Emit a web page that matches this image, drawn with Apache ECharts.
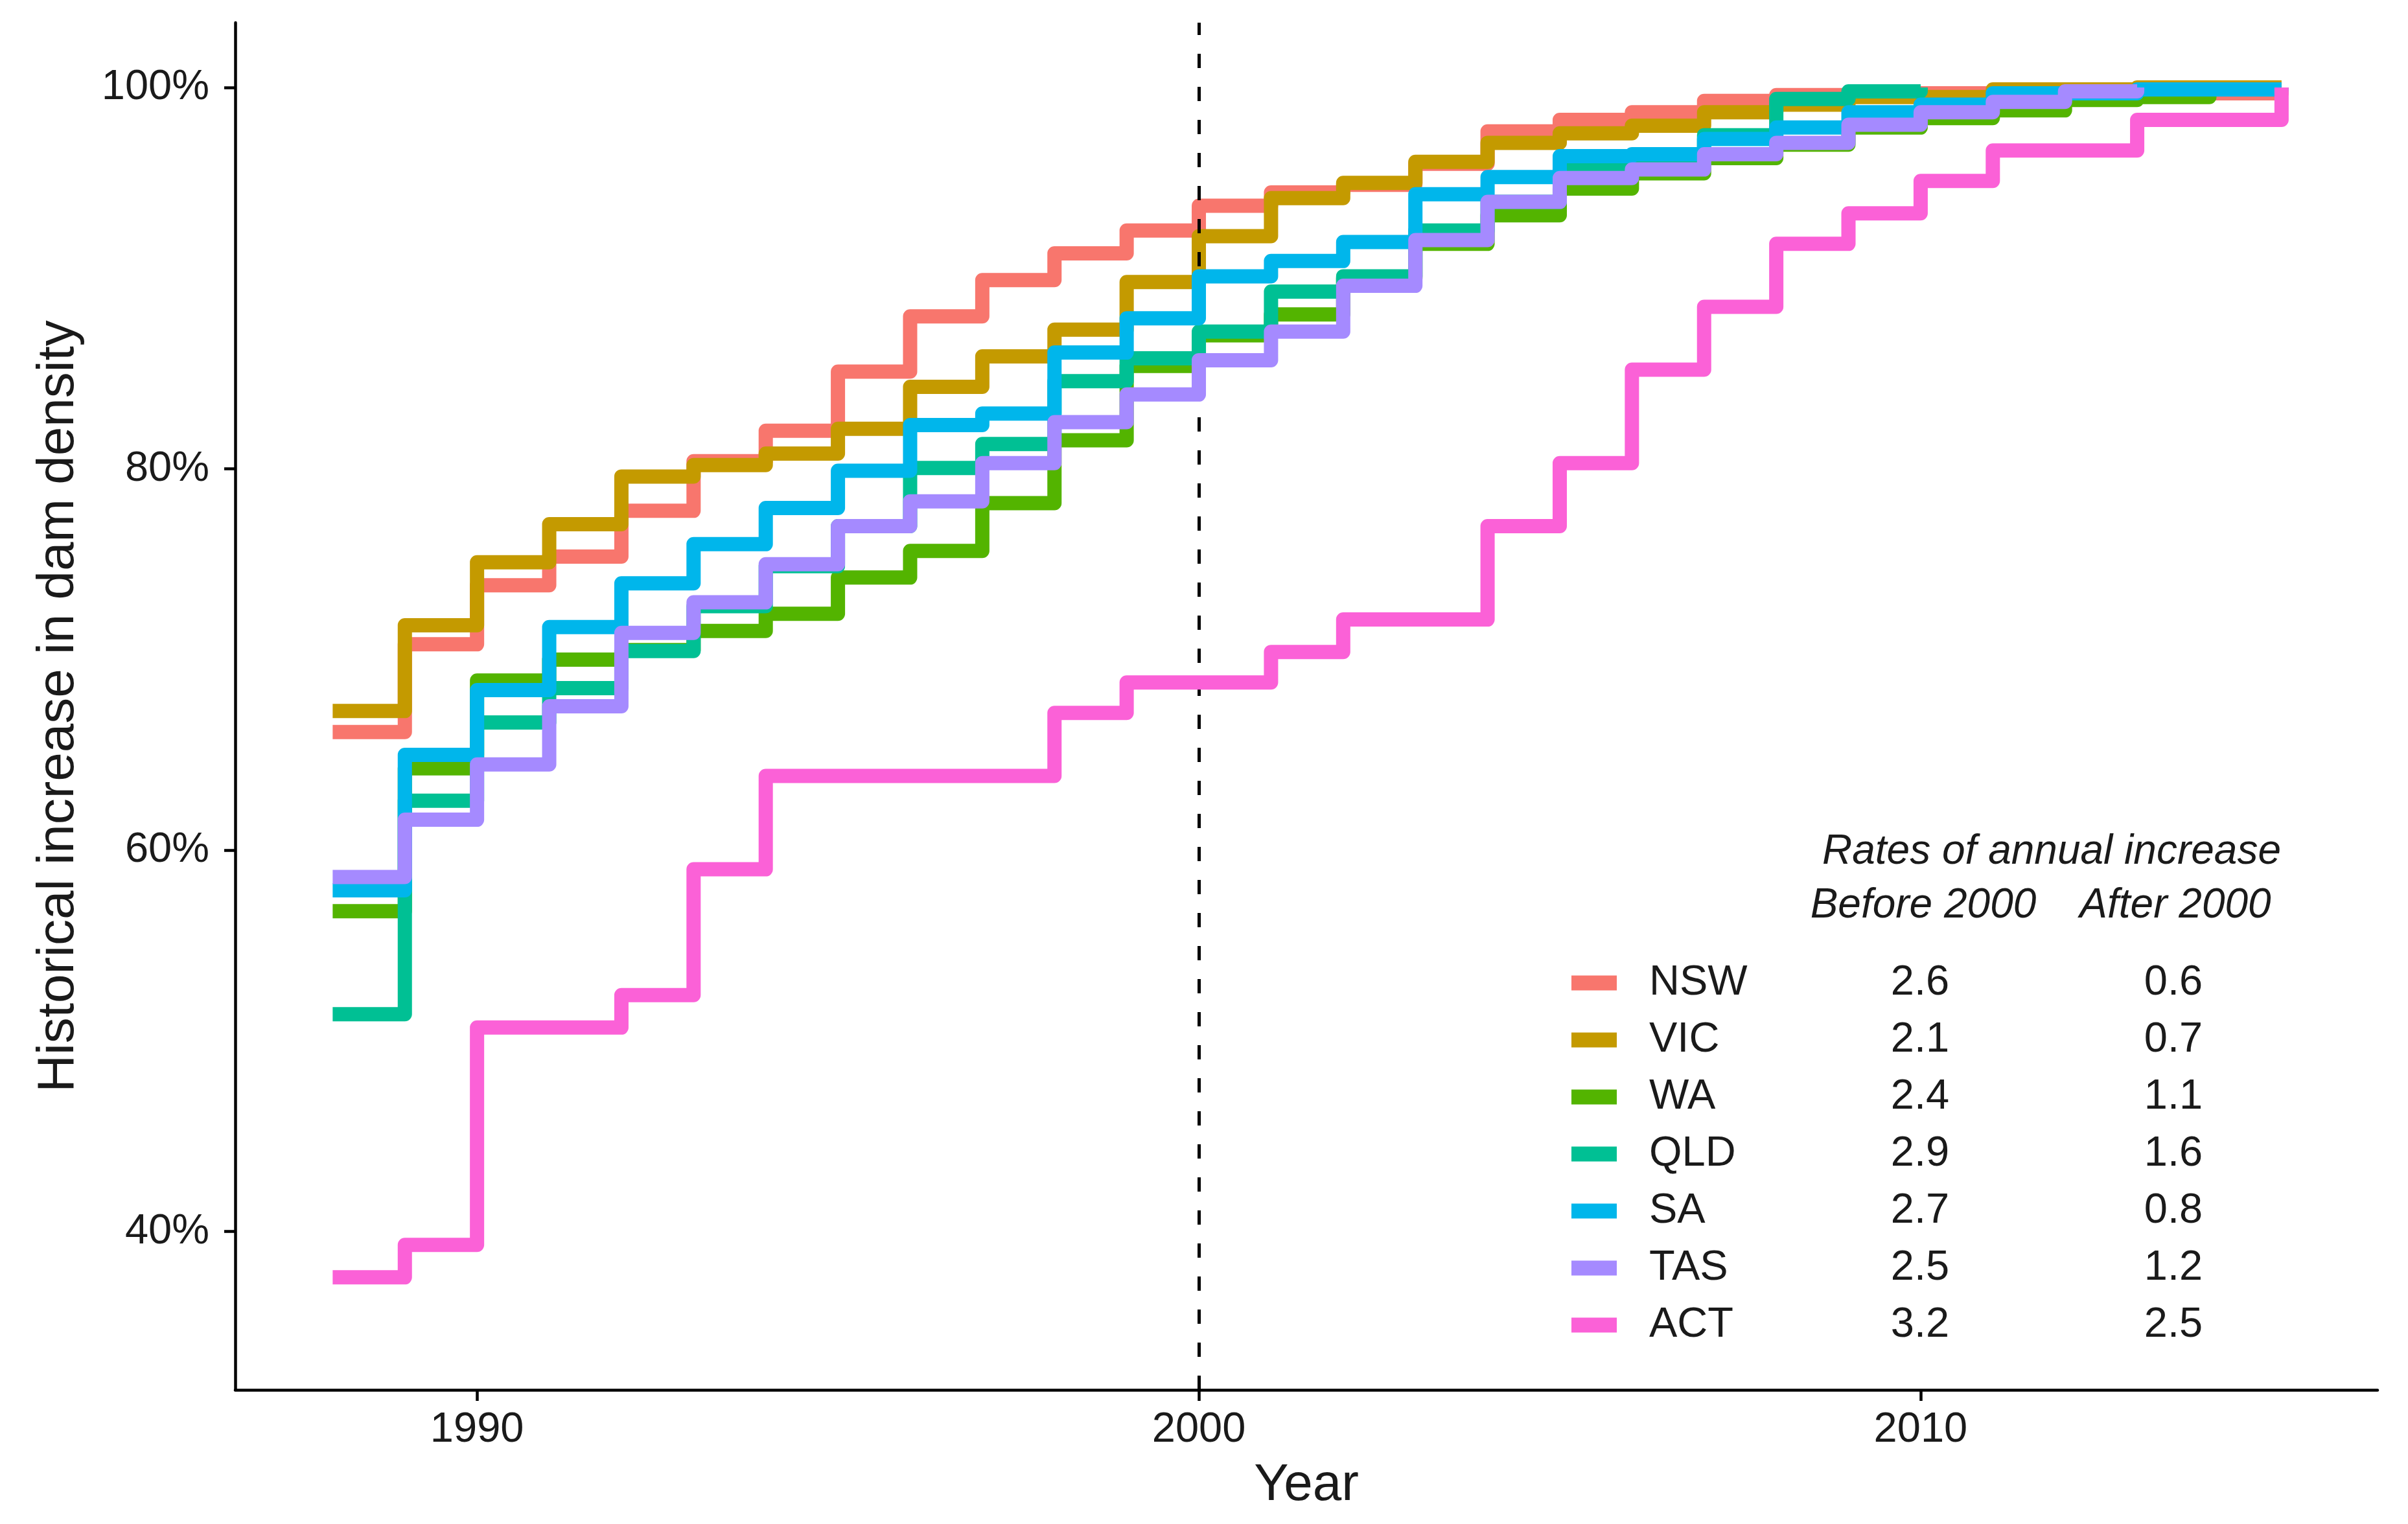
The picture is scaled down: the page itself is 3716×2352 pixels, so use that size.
<!DOCTYPE html>
<html>
<head>
<meta charset="utf-8">
<script src="https://cdn.jsdelivr.net/npm/echarts@6/dist/echarts.min.js"></script>
<style>
html,body{margin:0;padding:0;background:#fff;}
#chart{width:3716px;height:2352px;}
</style>
</head>
<body>
<div id="chart"></div>
<script>
// ---- Data ----
const years = [1988,1989,1990,1991,1992,1993,1994,1995,1996,1997,1998,1999,2000,2001,2002,2003,2004,2005,2006,2007,2008,2009,2010,2011,2012,2013,2014,2015];
const states = ['NSW','VIC','WA','QLD','SA','TAS','ACT'];
const nsw = [66.2,70.8,73.9,75.4,77.8,80.4,82.0,85.1,88.0,89.9,91.3,92.5,93.8,94.5,94.9,96.0,97.7,98.3,98.7,99.3,99.6,99.7,99.7,99.7,99.7,99.7,99.7,100];
const vic = [67.3,71.8,75.1,77.1,79.6,80.2,80.8,82.1,84.3,85.9,87.3,89.8,92.2,94.2,95.0,96.1,97.1,97.6,98.0,98.7,99.1,99.5,99.5,99.9,99.9,100,100,100];
const wa  = [56.8,64.3,68.9,70.0,70.5,71.5,72.4,74.3,75.7,78.2,81.5,85.4,87.0,88.1,90.0,91.8,93.3,94.7,95.5,96.3,97.0,97.9,98.4,98.8,99.35,99.5,100];
const qld = [51.4,62.6,66.7,68.5,70.45,72.8,74.9,77.0,80.05,81.3,84.6,85.8,87.2,89.3,90.1,92.5,94.0,95.8,96.4,97.5,99.4,99.8,100];
const sa  = [57.9,65.0,68.4,71.7,74.0,76.05,77.95,79.9,82.3,82.9,86.1,87.9,90.1,90.9,91.9,94.4,95.3,96.4,96.5,97.3,97.9,98.7,99.1,99.7,99.7,99.9,99.9,100];
const tas = [58.6,61.6,64.5,67.55,71.4,73.0,75.0,77.0,78.3,80.3,82.45,83.9,85.7,87.2,89.6,92.0,94.0,95.25,95.7,96.5,97.1,98.05,98.7,99.25,99.8,100];
const act = [37.6,39.3,50.7,50.7,52.4,59.0,63.9,63.9,63.9,63.9,67.2,68.8,68.8,70.4,72.1,72.1,77.0,80.3,85.2,88.5,91.8,93.4,95.1,96.7,96.7,98.3,98.3,100];
const rateBefore = ['2.6','2.1','2.4','2.9','2.7','2.5','3.2'];
const rateAfter  = ['0.6','0.7','1.1','1.6','0.8','1.2','2.5'];
const xTicks = [1990,2000,2010];
const yTicks = [40,60,80,100];
const cutYear = 2000;

const seriesValues = [nsw,vic,wa,qld,sa,tas,act];
const colors = ['#F8766D','#C49A00','#53B400','#00C094','#00B6EB','#A58AFF','#FB61D7'];
const FONT = '"Liberation Sans", Arial, Helvetica, sans-serif';
const TXT = '#1a1a1a';

const chart = echarts.init(document.getElementById('chart'), null, {renderer:'canvas'});

const series = states.map((name, i) => {
  const vals = seriesValues[i];
  const s = {
    name: name,
    type: 'line',
    step: 'end',
    showSymbol: false,
    symbol: 'none',
    color: colors[i],
    lineStyle: {width: 22, color: colors[i], cap: 'butt', join: 'round'},
    data: vals.map((v, k) => [years[k], v]),
    z: 2 + i
  };
  if (i === 0) {
    s.markLine = {
      silent: true,
      symbol: 'none',
      label: {show: false},
      lineStyle: {color: '#000', width: 5, type: [22, 29]},
      data: [{xAxis: cutYear}],
      z: 20
    };
  }
  return s;
});
// put dashed line on top by separate series
series[0].markLine = undefined;
series.push({
  name: '_cut',
  type: 'line',
  data: [],
  markLine: {
    silent: true,
    symbol: 'none',
    label: {show: false},
    lineStyle: {color: '#000', width: 5, type: [22, 29]},
    data: [{xAxis: cutYear}]
  },
  z: 20
});

const option = {
  backgroundColor: '#ffffff',
  animation: false,
  grid: {left: 363, right: 47, top: 35, bottom: 207, containLabel: false},
  xAxis: {
    type: 'value',
    min: 1986.65,
    max: 2016.33,
    name: 'Year',
    nameLocation: 'middle',
    nameGap: 108,
    nameTextStyle: {fontFamily: FONT, fontSize: 80, color: TXT},
    axisLine: {show: true, onZero: false, lineStyle: {color: '#000', width: 4.5}},
    axisTick: {show: true, length: 17, lineStyle: {color: '#000', width: 4.5}, customValues: xTicks},
    axisLabel: {show: true, margin: 30, fontFamily: FONT, fontSize: 65, color: TXT, customValues: xTicks,
      formatter: v => String(v)},
    splitLine: {show: false}
  },
  yAxis: {
    type: 'value',
    min: 31.7,
    max: 103.4,
    name: 'Historical increase in dam density',
    nameLocation: 'middle',
    nameGap: 232,
    nameRotate: 90,
    nameTextStyle: {fontFamily: FONT, fontSize: 80, color: TXT},
    axisLine: {show: true, onZero: false, lineStyle: {color: '#000', width: 4.5}},
    axisTick: {show: true, length: 17, lineStyle: {color: '#000', width: 4.5}, customValues: yTicks},
    axisLabel: {show: true, margin: 40, fontFamily: FONT, fontSize: 65, color: TXT, customValues: yTicks,
      formatter: v => v + '%'},
    splitLine: {show: false}
  },
  legend: {
    orient: 'vertical',
    left: 2425,
    top: 1482,
    padding: 0,
    itemWidth: 70,
    itemHeight: 23,
    itemGap: 18,
    icon: 'rect',
    selectedMode: false,
    data: states,
    formatter: function (name) {
      const i = states.indexOf(name);
      return '{n|' + name + '}{b|' + rateBefore[i] + '}{a|' + rateAfter[i] + '}';
    },
    textStyle: {
      fontFamily: FONT, fontSize: 65, color: TXT, lineHeight: 70,
      rich: {
        n: {fontFamily: FONT, fontSize: 65, color: TXT, width: 318, padding: [0, 0, 0, 45], align: 'left', lineHeight: 70},
        b: {fontFamily: FONT, fontSize: 65, color: TXT, width: 200, align: 'center', lineHeight: 70},
        a: {fontFamily: FONT, fontSize: 65, color: TXT, width: 582, align: 'center', lineHeight: 70}
      }
    }
  },
  graphic: [
    {type: 'text', x: 3166, y: 1315, style: {text: 'Rates of annual increase', font: 'italic 64px ' + FONT, fill: TXT, textAlign: 'center', textVerticalAlign: 'middle'}},
    {type: 'text', x: 2968, y: 1398, style: {text: 'Before 2000', font: 'italic 64px ' + FONT, fill: TXT, textAlign: 'center', textVerticalAlign: 'middle'}},
    {type: 'text', x: 3357, y: 1398, style: {text: 'After 2000', font: 'italic 64px ' + FONT, fill: TXT, textAlign: 'center', textVerticalAlign: 'middle'}}
  ],
  series: series
};
chart.setOption(option);
</script>
</body>
</html>
